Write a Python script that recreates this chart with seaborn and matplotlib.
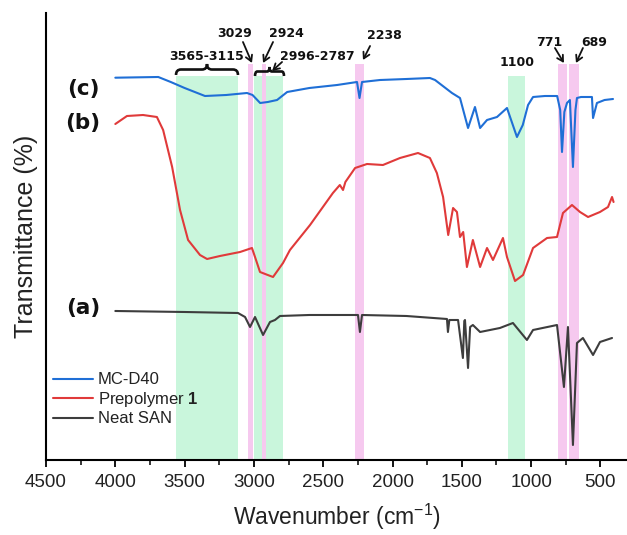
import numpy as np
import pandas as pd
import matplotlib
matplotlib.use("Agg")
import matplotlib.pyplot as plt
import seaborn as sns
from matplotlib.path import Path
from matplotlib.patches import PathPatch
from matplotlib.ticker import MultipleLocator

# ---------------- data ----------------
blue_w = [4000, 3690, 3600, 3500, 3353, 3200, 3050, 3010, 2955, 2900, 2833, 2760, 2600, 2400,
          2256, 2238, 2220, 2090, 1900, 1730, 1693, 1571, 1513, 1455, 1405, 1368, 1318, 1246,
          1174, 1102, 1060, 1022, 986, 900, 812, 790, 777, 760, 741, 720, 698, 680, 669, 640,
          561, 553, 525, 470, 409]
blue_t = [382.3, 383, 378, 372, 364, 365, 367, 365, 357, 358, 360, 368, 372, 375,
          378, 362, 378, 380, 381, 382, 380, 367, 362, 332, 353, 332, 340, 343,
          352, 323, 335, 355, 363, 364, 364, 350, 308, 348, 357, 360, 293, 350, 362, 363,
          363, 342, 357, 360, 361]

red_w = [4000, 3916, 3800, 3700, 3655, 3590, 3533, 3475, 3389, 3338, 3245, 3100, 3014, 2992,
         2956, 2900, 2862, 2790, 2740, 2595, 2430, 2380, 2357, 2340, 2270, 2184, 2069, 1946,
         1816, 1730, 1680, 1635, 1598, 1563, 1535, 1513, 1490, 1463, 1420, 1368, 1318, 1275,
         1203, 1174, 1116, 1058, 986, 885, 813, 770, 705, 647, 589, 503, 445, 416, 405]
red_t = [336, 344, 345, 343, 330, 293, 250, 220, 205, 201, 204, 208, 212, 203,
         188, 185, 183, 197, 210, 235, 267, 275, 270, 278, 292, 296, 295, 302,
         307, 302, 287, 263, 225, 252, 248, 223, 228, 193, 220, 193, 212, 200,
         222, 203, 179, 185, 212, 222, 223, 247, 255, 248, 243, 248, 253, 263, 258]

black_w = [4000, 3500, 3115, 3064, 3028, 2992, 2934, 2884, 2848, 2812, 2600, 2249, 2235, 2220,
           1900, 1607, 1600, 1590, 1527, 1492, 1482, 1477, 1455, 1440, 1420, 1368, 1225, 1131,
           1030, 986, 813, 763, 734, 698, 669, 626, 553, 503, 416]
black_t = [149, 148, 147, 143, 133, 143, 125, 138, 140, 144, 145, 145, 128, 145,
           144, 141, 128, 140, 140, 102, 139, 140, 92, 133, 135, 128, 132, 137,
           120, 130, 135, 73, 133, 15, 117, 122, 105, 118, 122]

series_names = ["MC-D40", "Prepolymer $\\mathbf{1}$", "Neat SAN"]
series_colors = ["#1f6fd6", "#e03a3a", "#3d3d3d"]

green_bands = [(3565, 3115), (2996, 2787), (1169, 1044)]
pink_bands = [(3040, 3010), (2942, 2913), (2270, 2206), (808, 739), (724, 654)]

ann_labels = ["3565-3115", "3029", "2924", "2996-2787", "2238", "1100", "771", "689"]
ann_x = [3340, 3136, 2768, 2545, 2060, 1102, 871, 546]
ann_y = [403, 427, 427, 403, 425, 397, 418, 418]

arrow_from = [(3079, 418), (2862, 418), (2797, 398), (2162, 414), (828, 412), (626, 412)]
arrow_to = [(3014, 397), (2934, 397), (2869, 389), (2213, 400), (763, 397), (676, 397)]

braces = [(3562, 3115, 385, 11), (2992, 2783, 384, 9)]

curve_tags = ["(c)", "(b)", "(a)"]
curve_tag_y = [371, 337, 152]

x_ticks = [4500, 4000, 3500, 3000, 2500, 2000, 1500, 1000, 500]

# ---------------- style ----------------
sns.set_theme(style="ticks")
plt.rcParams['font.family'] = ['Liberation Sans', 'DejaVu Sans']
plt.rcParams['mathtext.fontset'] = 'custom'
plt.rcParams['mathtext.rm'] = 'Liberation Sans'
plt.rcParams['mathtext.bf'] = 'Liberation Sans:bold'

fig = plt.figure(figsize=(6.27, 5.35), dpi=100)
ax = fig.add_axes([0.0734, 0.1402, 0.9266, 0.8355])

ymax = 447
for lo, hi in green_bands:
    ax.axvspan(lo, hi, ymin=0, ymax=384 / ymax, color="#c9f6dc", lw=0, zorder=1)
for lo, hi in pink_bands:
    ax.axvspan(lo, hi, ymin=0, ymax=396 / ymax, color="#f6c9ef", lw=0, zorder=2)

frames = [pd.DataFrame({"w": blue_w, "t": blue_t}),
          pd.DataFrame({"w": red_w, "t": red_t}),
          pd.DataFrame({"w": black_w, "t": black_t})]
for df, name, col in zip(frames, series_names, series_colors):
    sns.lineplot(data=df, x="w", y="t", ax=ax, color=col, lw=1.5, label=name,
                 sort=False, estimator=None, zorder=3)

ax.set_xlim(4500, 308)
ax.set_ylim(0, ymax)
ax.set_xticks(x_ticks)
ax.xaxis.set_minor_locator(MultipleLocator(250))
ax.set_yticks([])
ax.tick_params(axis='x', which='major', direction='out', length=5, width=1.3,
               labelsize=13.5, pad=5, color='black', labelcolor='#222222')
ax.tick_params(axis='x', which='minor', direction='out', length=3.5, width=1.1, color='black')
for s in ["top", "right"]:
    ax.spines[s].set_visible(False)
for s in ["left", "bottom"]:
    ax.spines[s].set_linewidth(1.5)
    ax.spines[s].set_color("black")

ax.set_xlabel("Wavenumber (cm$^{-1}$)", fontsize=16.5, color='#222222', labelpad=8)
ax.set_ylabel("Transmittance (%)", fontsize=18, color='#222222', labelpad=6)

# labels of curves
for tag, ty in zip(curve_tags, curve_tag_y):
    ax.text(4233, ty, tag, ha='center', va='center', fontsize=15.5, fontweight='bold',
            family='DejaVu Sans', color='#111111')

# annotations
for lab, xx, yy in zip(ann_labels, ann_x, ann_y):
    ax.text(xx, yy, lab, ha='center', va='center', fontsize=9, fontweight='bold',
            family='DejaVu Sans', color='#111111')
for (x0, y0), (x1, y1) in zip(arrow_from, arrow_to):
    ax.annotate('', xy=(x1, y1), xytext=(x0, y0),
                arrowprops=dict(arrowstyle='->,head_length=0.35,head_width=0.2',
                                lw=1.3, color='#111111', shrinkA=0, shrinkB=0))

def brace(ax, x0, x1, yb, h):
    xm = (x0 + x1) / 2
    q = (x1 - x0) * 0.08
    ym = yb + h * 0.5
    verts = [(x0, yb), (x0, ym), (x0 + q, ym),
             (xm - q, ym), (xm, ym), (xm, yb + h),
             (xm, ym), (xm + q, ym),
             (x1 - q, ym), (x1, ym), (x1, yb)]
    codes = [Path.MOVETO, Path.CURVE3, Path.CURVE3,
             Path.LINETO, Path.CURVE3, Path.CURVE3,
             Path.CURVE3, Path.CURVE3,
             Path.LINETO, Path.CURVE3, Path.CURVE3]
    ax.add_patch(PathPatch(Path(verts, codes), fill=False, lw=1.9, color='#111111', zorder=4))

for x0, x1, yb, h in braces:
    brace(ax, x0, x1, yb, h)

leg = ax.legend(loc='upper left', bbox_to_anchor=(0.012, 0.196), frameon=False,
                fontsize=12, handlelength=2.4, handletextpad=0.3, labelspacing=0.15,
                borderpad=0, borderaxespad=0)
for t in leg.get_texts():
    t.set_color('#222222')

fig.savefig("out.png", dpi=100)
